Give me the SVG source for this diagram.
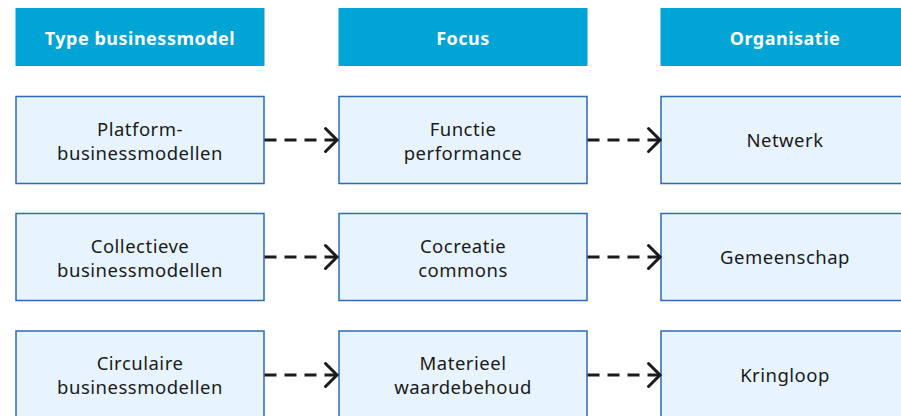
<svg xmlns="http://www.w3.org/2000/svg" width="901" height="416" viewBox="0 0 901 416">
  <style>
    .hdr { fill: #00a5d5; }
    .hdr-t { fill: #ffffff; font-family: "Noto Sans", "Open Sans", sans-serif; font-weight: bold; font-size: 18px; letter-spacing: 0.5px; text-anchor: middle; }
    .box { fill: #e8f4fd; stroke: #2a6cb5; stroke-width: 1.5; }
    .box-t { fill: #1a1a1a; font-family: "Noto Sans", "Open Sans", sans-serif; font-size: 18.5px; letter-spacing: 0.5px; text-anchor: middle; }
    .dash { fill: none; stroke: #1a1a1a; stroke-width: 3; stroke-dasharray: 12 8; }
    .head { fill: none; stroke: #1a1a1a; stroke-width: 3; stroke-linecap: round; stroke-linejoin: miter; }
  </style>

  <!-- Column headers -->
  <g id="hdr-type">
    <rect class="hdr" x="15.5" y="8" width="249" height="58"/>
    <text class="hdr-t" x="140" y="44.5">Type businessmodel</text>
  </g>
  <g id="hdr-focus">
    <rect class="hdr" x="338.5" y="8" width="249" height="58"/>
    <text class="hdr-t" x="463" y="44.5">Focus</text>
  </g>
  <g id="hdr-org">
    <rect class="hdr" x="660.5" y="8" width="249" height="58"/>
    <text class="hdr-t" x="785" y="44.5">Organisatie</text>
  </g>

  <!-- Row 1 -->
  <g id="platform">
    <rect class="box" x="16" y="96.5" width="248" height="87"/>
    <text class="box-t" x="140" y="135.5">Platform-</text>
    <text class="box-t" x="140" y="159.5">businessmodellen</text>
  </g>
  <g id="functie">
    <rect class="box" x="339" y="96.5" width="248" height="87"/>
    <text class="box-t" x="463" y="135.5">Functie</text>
    <text class="box-t" x="463" y="159.5">performance</text>
  </g>
  <g id="netwerk">
    <rect class="box" x="661" y="96.5" width="248" height="87"/>
    <text class="box-t" x="785" y="147">Netwerk</text>
  </g>

  <!-- Row 2 -->
  <g id="collectief">
    <rect class="box" x="16" y="213.5" width="248" height="87"/>
    <text class="box-t" x="140" y="252.5">Collectieve</text>
    <text class="box-t" x="140" y="276.5">businessmodellen</text>
  </g>
  <g id="cocreatie">
    <rect class="box" x="339" y="213.5" width="248" height="87"/>
    <text class="box-t" x="463" y="252.5">Cocreatie</text>
    <text class="box-t" x="463" y="276.5">commons</text>
  </g>
  <g id="gemeenschap">
    <rect class="box" x="661" y="213.5" width="248" height="87"/>
    <text class="box-t" x="785" y="264">Gemeenschap</text>
  </g>

  <!-- Row 3 -->
  <g id="circulair">
    <rect class="box" x="16" y="331" width="248" height="87"/>
    <text class="box-t" x="140" y="370">Circulaire</text>
    <text class="box-t" x="140" y="394">businessmodellen</text>
  </g>
  <g id="materieel">
    <rect class="box" x="339" y="331" width="248" height="87"/>
    <text class="box-t" x="463" y="370">Materieel</text>
    <text class="box-t" x="463" y="394">waardebehoud</text>
  </g>
  <g id="kringloop">
    <rect class="box" x="661" y="331" width="248" height="87"/>
    <text class="box-t" x="785" y="381.5">Kringloop</text>
  </g>

  <!-- Dashed connectors with open chevron heads -->
  <g id="connectors">
    <path class="dash" d="M264.5,140 H336"/>
    <path class="head" d="M325.5,128.5 L337,140 L325.5,151.5"/>
    <path class="dash" d="M587.5,140 H659"/>
    <path class="head" d="M648.5,128.5 L660,140 L648.5,151.5"/>

    <path class="dash" d="M264.5,257 H336"/>
    <path class="head" d="M325.5,245.5 L337,257 L325.5,268.5"/>
    <path class="dash" d="M587.5,257 H659"/>
    <path class="head" d="M648.5,245.5 L660,257 L648.5,268.5"/>

    <path class="dash" d="M264.5,375 H336"/>
    <path class="head" d="M325.5,363.5 L337,375 L325.5,386.5"/>
    <path class="dash" d="M587.5,375 H659"/>
    <path class="head" d="M648.5,363.5 L660,375 L648.5,386.5"/>
  </g>
</svg>
